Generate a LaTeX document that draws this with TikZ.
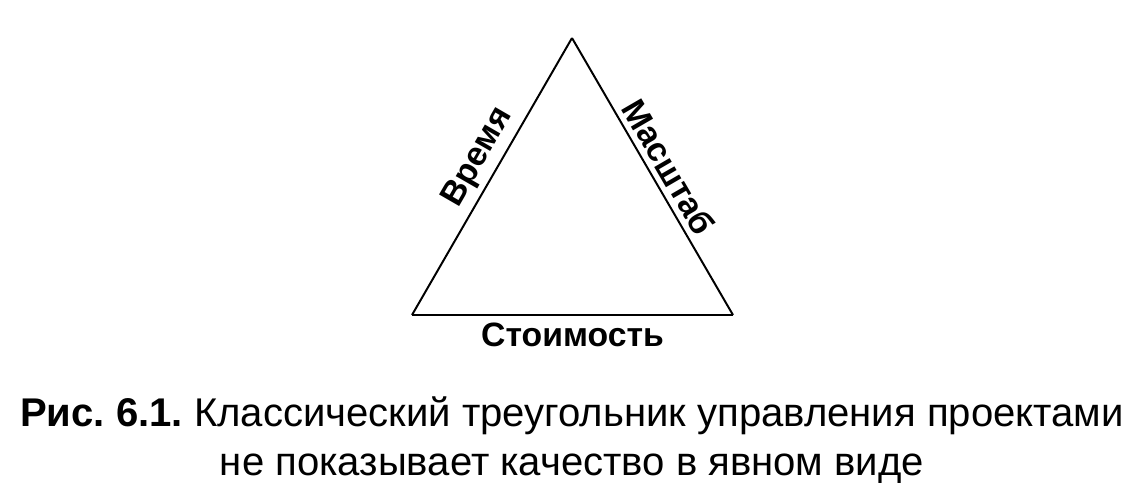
\documentclass[tikz,border=0pt]{standalone}
\usepackage{fontspec}
\setmainfont{Liberation Sans}
\usetikzlibrary{positioning}
\frenchspacing

\begin{document}
\begin{tikzpicture}[
  x=0.025cm, y=-0.025cm,
  side/.style={line width=1.4pt, line join=miter},
  lbl/.style={font=\fontsize{24}{27}\selectfont\bfseries, inner sep=2pt},
  capt/.style={font=\fontsize{28.5}{34.5}\selectfont, align=center, inner sep=0pt}
]
  \useasboundingbox (0,0) rectangle (1147,499);

  % corners of the triangle
  \coordinate (top) at (572,38);
  \coordinate (left) at (412,315);
  \coordinate (right) at (733,315);

  % sides with their labels
  \draw[side] (left) -- (top) node[lbl, pos=0.53, sloped, above=2pt] (time) {Время};
  \draw[side] (top) -- (right) node[lbl, pos=0.50, sloped, above=2pt] (scope) {Масштаб};
  \draw[side] (right) -- (left) node[lbl, midway, below=3pt] (cost) {Стоимость};

  % caption
  \node[capt] (caption) at (572,440) {\textbf{Рис. 6.1.} Классический треугольник управления проектами\\не показывает качество в явном виде};
\end{tikzpicture}
\end{document}
